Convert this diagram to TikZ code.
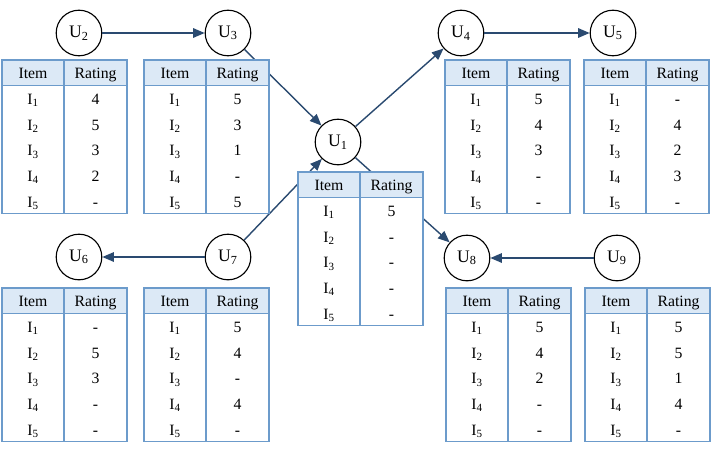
\documentclass[tikz,border=0pt]{standalone}
\usepackage{fontspec}
\setmainfont{Liberation Serif}
\usepackage{tikz}
\usetikzlibrary{arrows.meta}
\definecolor{arrowc}{HTML}{2A4A70}
\definecolor{frame}{HTML}{6C9BCB}
\definecolor{headbg}{HTML}{DCE9F6}
\tikzset{
  user/.style={circle, draw=black, fill=white, line width=0.8pt, minimum size=1.14cm, inner sep=0pt, font=\fontsize{12.5}{14}\selectfont},
  link/.style={draw=arrowc, line width=1pt, -{Triangle[length=2.9mm,width=2.4mm]}},
  grid/.style={draw=frame, line width=0.9pt},
  cell/.style={inner sep=0pt, anchor=base, font=\fontsize{11.2}{13}\selectfont},
}
\begin{document}
\begin{tikzpicture}[x=0.025cm,y=-0.025cm]
  \useasboundingbox (0,0) rectangle (714,448);
  \foreach \u/\x/\y in {1/338/142,2/79/33,3/228/33,4/461/33,5/613/33,6/79/257,7/228/257,8/467/258,9/617/258}
    \node[user] (U\u) at (\x,\y) {U\textsubscript{\u}};
  \draw[link] (U2) -- (U3);
  \draw[link] (U3) -- (U1);
  \draw[link] (U1) -- (U4);
  \draw[link] (U4) -- (U5);
  \draw[link] (U1) -- (U8);
  \draw[link] (U7) -- (U1);
  \draw[link] (U7) -- (U6);
  \draw[link] (U9) -- (U8);
  \foreach \t/\x/\y/\a/\b/\c/\d/\e in {2/2/60/4/5/3/2/-, 3/144/60/5/3/1/-/5, 4/445/60/5/4/3/-/-, 5/584/60/-/4/2/3/-,
      1/298/172/5/-/-/-/-, 6/2/288/-/5/3/-/-, 7/144/288/5/4/-/4/-, 8/446/288/5/4/2/-/-, 9/585/288/5/5/1/4/-}{
    \fill[white] (\x,\y) rectangle ++(125,153.5);
    \fill[headbg] (\x,\y) rectangle ++(125,25.5);
    \draw[grid] (\x,\y) rectangle ++(125,153.5);
    \draw[grid] (\x,\y+25.5) -- ++(125,0);
    \draw[grid] (\x+62,\y) -- ++(0,153.5);
    \node[cell] (T\t-item) at (\x+31,\y+18) {Item};
    \node[cell] (T\t-rating) at (\x+93.5,\y+18) {Rating};
    \foreach \i/\r in {1/\a,2/\b,3/\c,4/\d,5/\e}{
      \node[cell] (T\t-i\i) at (\x+31,\y+25.5+25.6*\i-6.5) {I\textsubscript{\i}};
      \node[cell] (T\t-v\i) at (\x+93.5,\y+25.5+25.6*\i-6.5) {\r};
    }
  }
\end{tikzpicture}
\end{document}
